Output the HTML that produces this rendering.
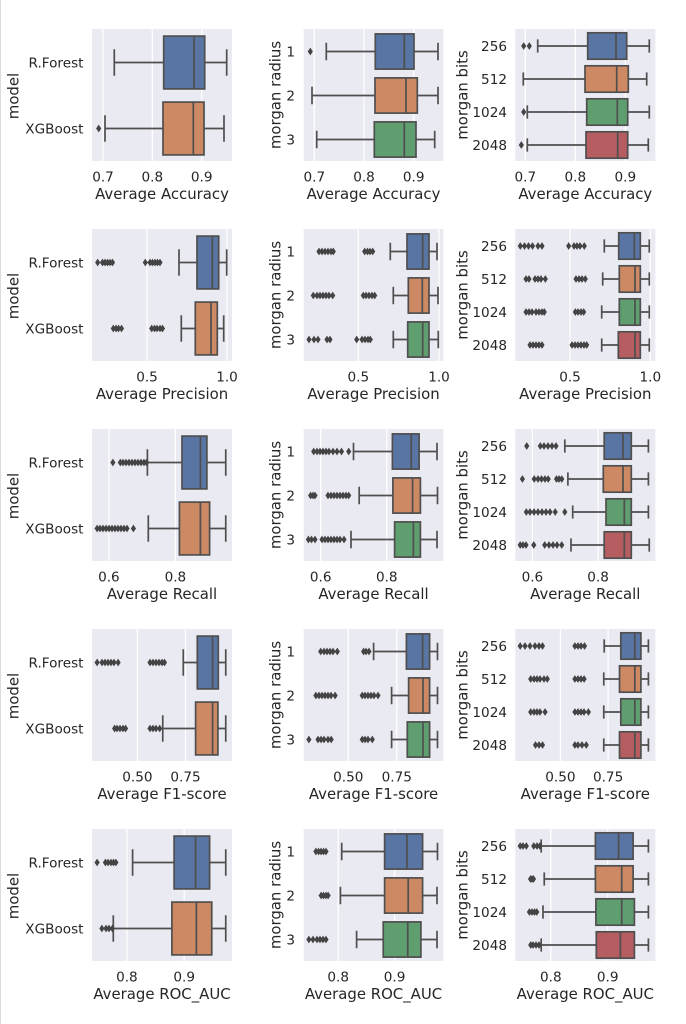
<!DOCTYPE html>
<html>
<head>
<meta charset="utf-8">
<style>
html,body{margin:0;padding:0;background:#fff;}
svg{display:block;}
text{font-family:"DejaVu Sans","Liberation Sans",sans-serif;fill:#262626;}
.tk{font-size:13.6px;}
.lb{font-size:14.9px;}
.fl{fill:#444;stroke:#444;stroke-width:1;}
</style>
</head>
<body>
<svg width="686" height="1024" viewBox="0 0 686 1024" xmlns="http://www.w3.org/2000/svg">
<rect x="0" y="0" width="686" height="1024" fill="#fff"/>
<line x1="0.5" y1="0" x2="0.5" y2="1024" stroke="#dcdcdc" stroke-width="1"/>

<!-- axes backgrounds -->
<g fill="#eaeaf2">
<rect x="92" y="29" width="140" height="132"/><rect x="303.7" y="29" width="139.6" height="132"/><rect x="515.3" y="29" width="140" height="132"/>
<rect x="92" y="229" width="140" height="132"/><rect x="303.7" y="229" width="139.6" height="132"/><rect x="515.3" y="229" width="140" height="132"/>
<rect x="92" y="429" width="140" height="132"/><rect x="303.7" y="429" width="139.6" height="132"/><rect x="515.3" y="429" width="140" height="132"/>
<rect x="92" y="629" width="140" height="132"/><rect x="303.7" y="629" width="139.6" height="132"/><rect x="515.3" y="629" width="140" height="132"/>
<rect x="92" y="829" width="140" height="132"/><rect x="303.7" y="829" width="139.6" height="132"/><rect x="515.3" y="829" width="140" height="132"/>
</g>

<!-- grid lines -->
<g stroke="#fff" stroke-width="1.25">
<path d="M103 29V161M152.3 29V161M201.7 29V161M314.3 29V161M364 29V161M413.7 29V161M525.3 29V161M575.3 29V161M625.3 29V161"/>
<path d="M147 229V361M227 229V361M358.3 229V361M439 229V361M570 229V361M650.3 229V361"/>
<path d="M108.9 429V561M175.4 429V561M320.7 429V561M386.75 429V561M532.4 429V561M598.1 429V561"/>
<path d="M137.4 629V761M185.5 629V761M348.25 629V761M396.8 629V761M560.4 629V761M608.1 629V761"/>
<path d="M126.9 829V961M184.2 829V961M338.2 829V961M394.6 829V961M550.8 829V961M607.7 829V961"/>
</g>

<!-- ===== ROW 1 ===== -->
<g stroke="#4f4f4f" stroke-width="1.7">
<rect x="163.7" y="36.1" width="41" height="52.8" fill="#5875a4"/>
<rect x="163" y="102.1" width="41" height="52.8" fill="#cc8963"/>
<rect x="375.3" y="33.9" width="38.7" height="35.2" fill="#5875a4"/>
<rect x="375" y="77.9" width="42.3" height="35.2" fill="#cc8963"/>
<rect x="374.3" y="121.9" width="41.7" height="35.2" fill="#5f9e6e"/>
<rect x="587.7" y="32.8" width="39" height="26.4" fill="#5875a4"/>
<rect x="585" y="65.8" width="43.3" height="26.4" fill="#cc8963"/>
<rect x="586.7" y="98.8" width="41" height="26.4" fill="#5f9e6e"/>
<rect x="586" y="131.8" width="41.7" height="26.4" fill="#b55d60"/>
<path fill="none" d="M114.3 62.5H163.7M204.7 62.5H226.7M114.3 49.3V75.7M226.7 49.3V75.7M194 36.1V88.9
M105 128.5H163M204 128.5H224M105 115.3V141.7M224 115.3V141.7M193.3 102.1V154.9
M326.3 51.5H375.3M414 51.5H438M326.3 42.7V60.3M438 42.7V60.3M404.3 33.9V69.1
M312 95.5H375M417.3 95.5H438M312 86.7V104.3M438 86.7V104.3M406 77.9V113.1
M316.7 139.5H374.3M416 139.5H434.7M316.7 130.7V148.3M434.7 130.7V148.3M404.3 121.9V157.1
M537.7 46H587.7M626.7 46H649.3M537.7 39.4V52.6M649.3 39.4V52.6M616 32.8V59.2
M523.3 79H585M628.3 79H646.7M523.3 72.4V85.6M646.7 72.4V85.6M616.7 65.8V92.2
M527.3 112H586.7M627.7 112H649.3M527.3 105.4V118.6M649.3 105.4V118.6M617.3 98.8V125.2
M527.3 145H586M627.7 145H648.3M527.3 138.4V151.6M648.3 138.4V151.6M617.7 131.8V158.2"/>
</g>
<path class="fl" d="M98.7 125.5l2 3-2 3-2-3zM310.3 48.5l2 3-2 3-2-3zM523.7 43l2 3-2 3-2-3zM529.3 43l2 3-2 3-2-3zM523.7 109l2 3-2 3-2-3zM521.3 142l2 3-2 3-2-3z"/>

<!-- ===== ROW 2 ===== -->
<g stroke="#4f4f4f" stroke-width="1.7">
<rect x="197" y="236.1" width="21.7" height="52.8" fill="#5875a4"/>
<rect x="195.3" y="302.1" width="22" height="52.8" fill="#cc8963"/>
<rect x="407" y="233.9" width="22" height="35.2" fill="#5875a4"/>
<rect x="408.3" y="277.9" width="20.7" height="35.2" fill="#cc8963"/>
<rect x="407.7" y="321.9" width="21.3" height="35.2" fill="#5f9e6e"/>
<rect x="618.7" y="232.8" width="21.6" height="26.4" fill="#5875a4"/>
<rect x="619.3" y="265.8" width="21" height="26.4" fill="#cc8963"/>
<rect x="619.3" y="298.8" width="21" height="26.4" fill="#5f9e6e"/>
<rect x="618.3" y="331.8" width="22" height="26.4" fill="#b55d60"/>
<path fill="none" d="M179 262.5H197M218.7 262.5H226.7M179 249.3V275.7M226.7 249.3V275.7M212.3 236.1V288.9
M181.3 328.5H195.3M217.3 328.5H223.7M181.3 315.3V341.7M223.7 315.3V341.7M211 302.1V354.9
M390.3 251.5H407M429 251.5H437M390.3 242.7V260.3M437 242.7V260.3M422.7 233.9V269.1
M393.3 295.5H408.3M429 295.5H438M393.3 286.7V304.3M438 286.7V304.3M422.3 277.9V313.1
M393.3 339.5H407.7M429 339.5H438.3M393.3 330.7V348.3M438.3 330.7V348.3M422.7 321.9V357.1
M604.3 246H618.7M640.3 246H649.3M604.3 239.4V252.6M649.3 239.4V252.6M634.3 232.8V259.2
M602.7 279H619.3M640.3 279H649.3M602.7 272.4V285.6M649.3 272.4V285.6M635 265.8V292.2
M601.7 312H619.3M640.3 312H649.3M601.7 305.4V318.6M649.3 305.4V318.6M635 298.8V325.2
M601.7 345H618.3M640.3 345H649.3M601.7 338.4V351.6M649.3 338.4V351.6M635 331.8V358.2"/>
</g>
<path class="fl" d="
M97.7 259.5l2 3-2 3-2-3zM102.5 259.5l2 3-2 3-2-3zM105 259.5l2 3-2 3-2-3zM107.5 259.5l2 3-2 3-2-3zM110 259.5l2 3-2 3-2-3zM112.5 259.5l2 3-2 3-2-3z
M145.3 259.5l2 3-2 3-2-3zM150 259.5l2 3-2 3-2-3zM152.5 259.5l2 3-2 3-2-3zM155 259.5l2 3-2 3-2-3zM157.5 259.5l2 3-2 3-2-3zM160 259.5l2 3-2 3-2-3z
M113.3 325.5l2 3-2 3-2-3zM116 325.5l2 3-2 3-2-3zM118.5 325.5l2 3-2 3-2-3zM121.5 325.5l2 3-2 3-2-3z
M151.7 325.5l2 3-2 3-2-3zM154.5 325.5l2 3-2 3-2-3zM157 325.5l2 3-2 3-2-3zM160 325.5l2 3-2 3-2-3zM162.5 325.5l2 3-2 3-2-3z
M319 248.5l2 3-2 3-2-3zM322 248.5l2 3-2 3-2-3zM325 248.5l2 3-2 3-2-3zM328 248.5l2 3-2 3-2-3zM331 248.5l2 3-2 3-2-3zM333.3 248.5l2 3-2 3-2-3z
M364.7 248.5l2 3-2 3-2-3zM367.5 248.5l2 3-2 3-2-3zM370 248.5l2 3-2 3-2-3zM372.7 248.5l2 3-2 3-2-3z
M313.3 292.5l2 3-2 3-2-3zM317 292.5l2 3-2 3-2-3zM320 292.5l2 3-2 3-2-3zM323 292.5l2 3-2 3-2-3zM326 292.5l2 3-2 3-2-3zM329 292.5l2 3-2 3-2-3zM332.7 292.5l2 3-2 3-2-3z
M363.3 292.5l2 3-2 3-2-3zM366 292.5l2 3-2 3-2-3zM369 292.5l2 3-2 3-2-3zM372 292.5l2 3-2 3-2-3zM374.7 292.5l2 3-2 3-2-3z
M309 336.5l2 3-2 3-2-3zM314 336.5l2 3-2 3-2-3zM318 336.5l2 3-2 3-2-3zM327 336.5l2 3-2 3-2-3zM330 336.5l2 3-2 3-2-3z
M356.7 336.5l2 3-2 3-2-3zM362 336.5l2 3-2 3-2-3zM365 336.5l2 3-2 3-2-3zM368 336.5l2 3-2 3-2-3zM370.3 336.5l2 3-2 3-2-3z
M520.3 243l2 3-2 3-2-3zM524.5 243l2 3-2 3-2-3zM528.5 243l2 3-2 3-2-3zM532.5 243l2 3-2 3-2-3zM538 243l2 3-2 3-2-3zM542 243l2 3-2 3-2-3z
M568.7 243l2 3-2 3-2-3zM574 243l2 3-2 3-2-3zM577 243l2 3-2 3-2-3zM580 243l2 3-2 3-2-3zM584.3 243l2 3-2 3-2-3z
M526 276l2 3-2 3-2-3zM529 276l2 3-2 3-2-3zM535 276l2 3-2 3-2-3zM538 276l2 3-2 3-2-3zM541 276l2 3-2 3-2-3zM545.3 276l2 3-2 3-2-3z
M576 276l2 3-2 3-2-3zM579 276l2 3-2 3-2-3zM582 276l2 3-2 3-2-3zM585.3 276l2 3-2 3-2-3z
M526 309l2 3-2 3-2-3zM529 309l2 3-2 3-2-3zM532 309l2 3-2 3-2-3zM536 309l2 3-2 3-2-3zM539 309l2 3-2 3-2-3zM542 309l2 3-2 3-2-3zM544.3 309l2 3-2 3-2-3z
M575.3 309l2 3-2 3-2-3zM578 309l2 3-2 3-2-3zM581 309l2 3-2 3-2-3zM583.7 309l2 3-2 3-2-3z
M530 342l2 3-2 3-2-3zM533 342l2 3-2 3-2-3zM536 342l2 3-2 3-2-3zM539 342l2 3-2 3-2-3zM542 342l2 3-2 3-2-3z
M572 342l2 3-2 3-2-3zM575 342l2 3-2 3-2-3zM578 342l2 3-2 3-2-3zM581 342l2 3-2 3-2-3zM584 342l2 3-2 3-2-3zM586.7 342l2 3-2 3-2-3z"/>

<!-- ===== ROW 3 ===== -->
<g stroke="#4f4f4f" stroke-width="1.7">
<rect x="182" y="436.1" width="24.9" height="52.8" fill="#5875a4"/>
<rect x="179.4" y="502.1" width="30.2" height="52.8" fill="#cc8963"/>
<rect x="392.4" y="433.9" width="26.7" height="35.2" fill="#5875a4"/>
<rect x="392.9" y="477.9" width="27.5" height="35.2" fill="#cc8963"/>
<rect x="394.6" y="521.9" width="25.8" height="35.2" fill="#5f9e6e"/>
<rect x="604.2" y="432.8" width="27.1" height="26.4" fill="#5875a4"/>
<rect x="603.3" y="465.8" width="28" height="26.4" fill="#cc8963"/>
<rect x="606" y="498.8" width="25.3" height="26.4" fill="#5f9e6e"/>
<rect x="604.2" y="531.8" width="27.1" height="26.4" fill="#b55d60"/>
<path fill="none" d="M147.4 462.5H182M206.9 462.5H225.75M147.4 449.3V475.7M225.75 449.3V475.7M200.4 436.1V488.9
M148.3 528.5H179.4M209.6 528.5H225.75M148.3 515.3V541.7M225.75 515.3V541.7M200.4 502.1V554.9
M353.5 451.5H392.4M419.1 451.5H437M353.5 442.7V460.3M437 442.7V460.3M411.25 433.9V469.1
M359.2 495.5H392.9M420.4 495.5H437.5M359.2 486.7V504.3M437.5 486.7V504.3M412.6 477.9V513.1
M351 539.5H394.6M420.4 539.5H437M351 530.7V548.3M437 530.7V548.3M413.4 521.9V557.1
M564.8 446H604.2M631.3 446H648.4M564.8 439.4V452.6M648.4 439.4V452.6M623 432.8V459.2
M567.9 479H603.3M631.3 479H648.4M567.9 472.4V485.6M648.4 472.4V485.6M623 465.8V492.2
M572.7 512H606M631.3 512H648.4M572.7 505.4V518.6M648.4 505.4V518.6M624.3 498.8V525.2
M571 545H604.2M631.3 545H649.25M571 538.4V551.6M649.25 538.4V551.6M624.3 531.8V558.2"/>
</g>
<path class="fl" d="
M112.9 459.5l2 3-2 3-2-3zM120.3 459.5l2 3-2 3-2-3zM123 459.5l2 3-2 3-2-3zM126 459.5l2 3-2 3-2-3zM129 459.5l2 3-2 3-2-3zM132 459.5l2 3-2 3-2-3zM135 459.5l2 3-2 3-2-3zM138 459.5l2 3-2 3-2-3zM141 459.5l2 3-2 3-2-3zM144 459.5l2 3-2 3-2-3zM146.6 459.5l2 3-2 3-2-3z
M97.1 525.5l2 3-2 3-2-3zM100 525.5l2 3-2 3-2-3zM103 525.5l2 3-2 3-2-3zM106 525.5l2 3-2 3-2-3zM109 525.5l2 3-2 3-2-3zM112 525.5l2 3-2 3-2-3zM115 525.5l2 3-2 3-2-3zM118 525.5l2 3-2 3-2-3zM121 525.5l2 3-2 3-2-3zM124 525.5l2 3-2 3-2-3zM127 525.5l2 3-2 3-2-3zM133.4 525.5l2 3-2 3-2-3z
M313.7 448.5l2 3-2 3-2-3zM317 448.5l2 3-2 3-2-3zM320 448.5l2 3-2 3-2-3zM323 448.5l2 3-2 3-2-3zM326 448.5l2 3-2 3-2-3zM329 448.5l2 3-2 3-2-3zM333 448.5l2 3-2 3-2-3zM337 448.5l2 3-2 3-2-3zM341.5 448.5l2 3-2 3-2-3zM348.7 448.5l2 3-2 3-2-3z
M310.6 492.5l2 3-2 3-2-3zM313 492.5l2 3-2 3-2-3zM315 492.5l2 3-2 3-2-3zM328 492.5l2 3-2 3-2-3zM331 492.5l2 3-2 3-2-3zM334 492.5l2 3-2 3-2-3zM337 492.5l2 3-2 3-2-3zM340 492.5l2 3-2 3-2-3zM343 492.5l2 3-2 3-2-3zM346 492.5l2 3-2 3-2-3zM348.7 492.5l2 3-2 3-2-3z
M308.4 536.5l2 3-2 3-2-3zM311.5 536.5l2 3-2 3-2-3zM315 536.5l2 3-2 3-2-3zM322 536.5l2 3-2 3-2-3zM325 536.5l2 3-2 3-2-3zM328 536.5l2 3-2 3-2-3zM331 536.5l2 3-2 3-2-3zM334 536.5l2 3-2 3-2-3zM337 536.5l2 3-2 3-2-3zM340 536.5l2 3-2 3-2-3zM344 536.5l2 3-2 3-2-3z
M526.75 443l2 3-2 3-2-3zM540.3 443l2 3-2 3-2-3zM544 443l2 3-2 3-2-3zM548 443l2 3-2 3-2-3zM552 443l2 3-2 3-2-3zM556 443l2 3-2 3-2-3z
M522.4 476l2 3-2 3-2-3zM534.2 476l2 3-2 3-2-3zM538 476l2 3-2 3-2-3zM541.5 476l2 3-2 3-2-3zM545 476l2 3-2 3-2-3zM548.2 476l2 3-2 3-2-3zM556.5 476l2 3-2 3-2-3zM559 476l2 3-2 3-2-3zM561.75 476l2 3-2 3-2-3z
M526.3 509l2 3-2 3-2-3zM530 509l2 3-2 3-2-3zM534 509l2 3-2 3-2-3zM538 509l2 3-2 3-2-3zM542 509l2 3-2 3-2-3zM546 509l2 3-2 3-2-3zM550 509l2 3-2 3-2-3zM555.2 509l2 3-2 3-2-3zM564.8 509l2 3-2 3-2-3z
M520.2 542l2 3-2 3-2-3zM523 542l2 3-2 3-2-3zM526 542l2 3-2 3-2-3zM533.75 542l2 3-2 3-2-3zM544.7 542l2 3-2 3-2-3zM549 542l2 3-2 3-2-3zM553 542l2 3-2 3-2-3zM557 542l2 3-2 3-2-3zM561.75 542l2 3-2 3-2-3z"/>

<!-- ===== ROW 4 ===== -->
<g stroke="#4f4f4f" stroke-width="1.7">
<rect x="197.3" y="636.1" width="21" height="52.8" fill="#5875a4"/>
<rect x="195.6" y="702.1" width="22.3" height="52.8" fill="#cc8963"/>
<rect x="406.4" y="633.9" width="23.2" height="35.2" fill="#5875a4"/>
<rect x="408.6" y="677.9" width="21" height="35.2" fill="#cc8963"/>
<rect x="407.3" y="721.9" width="22.3" height="35.2" fill="#5f9e6e"/>
<rect x="620.8" y="632.8" width="20.1" height="26.4" fill="#5875a4"/>
<rect x="619.5" y="665.8" width="21.4" height="26.4" fill="#cc8963"/>
<rect x="620.8" y="698.8" width="20.1" height="26.4" fill="#5f9e6e"/>
<rect x="619.5" y="731.8" width="21.4" height="26.4" fill="#b55d60"/>
<path fill="none" d="M183.3 662.5H197.3M218.3 662.5H225.75M183.3 649.3V675.7M225.75 649.3V675.7M212.6 636.1V688.9
M162.75 728.5H195.6M217.9 728.5H225.75M162.75 715.3V741.7M225.75 715.3V741.7M212.6 702.1V754.9
M373.6 651.5H406.4M429.6 651.5H437.5M373.6 642.7V660.3M437.5 642.7V660.3M422.6 633.9V669.1
M391.6 695.5H408.6M429.6 695.5H437.5M391.6 686.7V704.3M437.5 686.7V704.3M423 677.9V713.1
M391.6 739.5H407.3M429.6 739.5H437.5M391.6 730.7V748.3M437.5 730.7V748.3M423 721.9V757.1
M604.2 646H620.8M640.9 646H648.4M604.2 639.4V652.6M648.4 639.4V652.6M634.8 632.8V659.2
M603.75 679H619.5M640.9 679H648.4M603.75 672.4V685.6M648.4 672.4V685.6M634.8 665.8V692.2
M603.75 712H620.8M640.9 712H648.4M603.75 705.4V718.6M648.4 705.4V718.6M634.8 698.8V725.2
M603.75 745H619.5M640.9 745H648.4M603.75 738.4V751.6M648.4 738.4V751.6M634.8 731.8V758.2"/>
</g>
<path class="fl" d="
M97.1 659.5l2 3-2 3-2-3zM102 659.5l2 3-2 3-2-3zM105 659.5l2 3-2 3-2-3zM108 659.5l2 3-2 3-2-3zM111 659.5l2 3-2 3-2-3zM114 659.5l2 3-2 3-2-3zM118.1 659.5l2 3-2 3-2-3z
M150 659.5l2 3-2 3-2-3zM153 659.5l2 3-2 3-2-3zM156 659.5l2 3-2 3-2-3zM159 659.5l2 3-2 3-2-3zM162 659.5l2 3-2 3-2-3zM164.5 659.5l2 3-2 3-2-3z
M114.6 725.5l2 3-2 3-2-3zM117 725.5l2 3-2 3-2-3zM120 725.5l2 3-2 3-2-3zM123 725.5l2 3-2 3-2-3zM125.6 725.5l2 3-2 3-2-3z
M150 725.5l2 3-2 3-2-3zM153 725.5l2 3-2 3-2-3zM156 725.5l2 3-2 3-2-3zM159.7 725.5l2 3-2 3-2-3z
M320.7 648.5l2 3-2 3-2-3zM324 648.5l2 3-2 3-2-3zM327 648.5l2 3-2 3-2-3zM330 648.5l2 3-2 3-2-3zM333 648.5l2 3-2 3-2-3zM337.3 648.5l2 3-2 3-2-3z
M363.6 648.5l2 3-2 3-2-3zM366 648.5l2 3-2 3-2-3zM369 648.5l2 3-2 3-2-3z
M315.9 692.5l2 3-2 3-2-3zM319 692.5l2 3-2 3-2-3zM322 692.5l2 3-2 3-2-3zM325 692.5l2 3-2 3-2-3zM328 692.5l2 3-2 3-2-3zM331 692.5l2 3-2 3-2-3zM335.1 692.5l2 3-2 3-2-3z
M362.25 692.5l2 3-2 3-2-3zM365 692.5l2 3-2 3-2-3zM368 692.5l2 3-2 3-2-3zM371 692.5l2 3-2 3-2-3zM374 692.5l2 3-2 3-2-3zM378 692.5l2 3-2 3-2-3z
M308.9 736.5l2 3-2 3-2-3zM318 736.5l2 3-2 3-2-3zM321 736.5l2 3-2 3-2-3zM324 736.5l2 3-2 3-2-3zM328 736.5l2 3-2 3-2-3zM331.2 736.5l2 3-2 3-2-3z
M362.25 736.5l2 3-2 3-2-3zM365 736.5l2 3-2 3-2-3zM368 736.5l2 3-2 3-2-3zM372.3 736.5l2 3-2 3-2-3z
M520.2 643l2 3-2 3-2-3zM525 643l2 3-2 3-2-3zM530 643l2 3-2 3-2-3zM535 643l2 3-2 3-2-3zM539 643l2 3-2 3-2-3zM542.5 643l2 3-2 3-2-3z
M574.9 643l2 3-2 3-2-3zM578 643l2 3-2 3-2-3zM581 643l2 3-2 3-2-3zM584.5 643l2 3-2 3-2-3z
M530.7 676l2 3-2 3-2-3zM534 676l2 3-2 3-2-3zM537 676l2 3-2 3-2-3zM540 676l2 3-2 3-2-3zM544 676l2 3-2 3-2-3zM547.3 676l2 3-2 3-2-3z
M574.9 676l2 3-2 3-2-3zM578 676l2 3-2 3-2-3zM581 676l2 3-2 3-2-3zM584.1 676l2 3-2 3-2-3z
M530.7 709l2 3-2 3-2-3zM534 709l2 3-2 3-2-3zM537 709l2 3-2 3-2-3zM540 709l2 3-2 3-2-3zM545.1 709l2 3-2 3-2-3z
M574.9 709l2 3-2 3-2-3zM578 709l2 3-2 3-2-3zM581 709l2 3-2 3-2-3zM584 709l2 3-2 3-2-3zM588.4 709l2 3-2 3-2-3z
M535.5 742l2 3-2 3-2-3zM539 742l2 3-2 3-2-3zM542.5 742l2 3-2 3-2-3z
M574.9 742l2 3-2 3-2-3zM578 742l2 3-2 3-2-3zM582 742l2 3-2 3-2-3zM586.25 742l2 3-2 3-2-3z"/>

<!-- ===== ROW 5 ===== -->
<g stroke="#4f4f4f" stroke-width="1.7">
<rect x="174.1" y="836.1" width="35.5" height="52.8" fill="#5875a4"/>
<rect x="171.9" y="902.1" width="39.85" height="52.8" fill="#cc8963"/>
<rect x="384.6" y="833.9" width="38" height="35.2" fill="#5875a4"/>
<rect x="384.6" y="877.9" width="38" height="35.2" fill="#cc8963"/>
<rect x="383.25" y="921.9" width="37.65" height="35.2" fill="#5f9e6e"/>
<rect x="595.4" y="832.8" width="37.7" height="26.4" fill="#5875a4"/>
<rect x="595.4" y="865.8" width="37.7" height="26.4" fill="#cc8963"/>
<rect x="595.9" y="898.8" width="38.5" height="26.4" fill="#5f9e6e"/>
<rect x="596.3" y="931.8" width="38.1" height="26.4" fill="#b55d60"/>
<path fill="none" d="M132.6 862.5H174.1M209.6 862.5H225.75M132.6 849.3V875.7M225.75 849.3V875.7M195.6 836.1V888.9
M113.3 928.5H171.9M211.75 928.5H225.75M113.3 915.3V941.7M225.75 915.3V941.7M196.4 902.1V954.9
M341.7 851.5H384.6M422.6 851.5H437.5M341.7 842.7V860.3M437.5 842.7V860.3M406.9 833.9V869.1
M340.4 895.5H384.6M422.6 895.5H437M340.4 886.7V904.3M437 886.7V904.3M408.2 877.9V913.1
M356.6 939.5H383.25M420.9 939.5H437M356.6 930.7V948.3M437 930.7V948.3M407.75 921.9V957.1
M541.2 846H595.4M633.1 846H648.4M541.2 839.4V852.6M648.4 839.4V852.6M618.6 832.8V859.2
M544.25 879H595.4M633.1 879H648.4M544.25 872.4V885.6M648.4 872.4V885.6M621.7 865.8V892.2
M543 912H595.9M634.4 912H648.4M543 905.4V918.6M648.4 905.4V918.6M621.7 898.8V925.2
M541.2 945H596.3M634.4 945H648.4M541.2 938.4V951.6M648.4 938.4V951.6M620.4 931.8V958.2"/>
</g>
<path class="fl" d="
M97.1 859.5l2 3-2 3-2-3zM105.4 859.5l2 3-2 3-2-3zM108 859.5l2 3-2 3-2-3zM111 859.5l2 3-2 3-2-3zM113.5 859.5l2 3-2 3-2-3zM115.9 859.5l2 3-2 3-2-3z
M101.9 925.5l2 3-2 3-2-3zM106 925.5l2 3-2 3-2-3zM109 925.5l2 3-2 3-2-3zM112.4 925.5l2 3-2 3-2-3z
M315.9 848.5l2 3-2 3-2-3zM318.5 848.5l2 3-2 3-2-3zM321 848.5l2 3-2 3-2-3zM323.5 848.5l2 3-2 3-2-3zM326 848.5l2 3-2 3-2-3z
M321.1 892.5l2 3-2 3-2-3zM323.5 892.5l2 3-2 3-2-3zM326 892.5l2 3-2 3-2-3zM328.1 892.5l2 3-2 3-2-3z
M308.9 936.5l2 3-2 3-2-3zM313 936.5l2 3-2 3-2-3zM317 936.5l2 3-2 3-2-3zM320 936.5l2 3-2 3-2-3zM323 936.5l2 3-2 3-2-3zM326 936.5l2 3-2 3-2-3z
M520.2 843l2 3-2 3-2-3zM523 843l2 3-2 3-2-3zM526.3 843l2 3-2 3-2-3zM533.75 843l2 3-2 3-2-3zM537 843l2 3-2 3-2-3zM539.9 843l2 3-2 3-2-3z
M530.5 876l2 3-2 3-2-3zM532 876l2 3-2 3-2-3zM533.5 876l2 3-2 3-2-3z
M529.4 909l2 3-2 3-2-3zM532 909l2 3-2 3-2-3zM534.5 909l2 3-2 3-2-3zM536.8 909l2 3-2 3-2-3z
M530.7 942l2 3-2 3-2-3zM533 942l2 3-2 3-2-3zM536 942l2 3-2 3-2-3zM539 942l2 3-2 3-2-3z"/>

<!-- ===== X tick labels ===== -->
<g class="tk" text-anchor="middle">
<text x="103" y="181.5">0.7</text><text x="152.3" y="181.5">0.8</text><text x="201.7" y="181.5">0.9</text>
<text x="314.3" y="181.5">0.7</text><text x="364" y="181.5">0.8</text><text x="413.7" y="181.5">0.9</text>
<text x="525.3" y="181.5">0.7</text><text x="575.3" y="181.5">0.8</text><text x="625.3" y="181.5">0.9</text>

<text x="147" y="381.5">0.5</text><text x="227" y="381.5">1.0</text>
<text x="358.3" y="381.5">0.5</text><text x="439" y="381.5">1.0</text>
<text x="570" y="381.5">0.5</text><text x="650.3" y="381.5">1.0</text>

<text x="108.9" y="581.5">0.6</text><text x="175.4" y="581.5">0.8</text>
<text x="320.7" y="581.5">0.6</text><text x="386.75" y="581.5">0.8</text>
<text x="532.4" y="581.5">0.6</text><text x="598.1" y="581.5">0.8</text>

<text x="137.4" y="781.5">0.50</text><text x="185.5" y="781.5">0.75</text>
<text x="348.25" y="781.5">0.50</text><text x="396.8" y="781.5">0.75</text>
<text x="560.4" y="781.5">0.50</text><text x="608.1" y="781.5">0.75</text>

<text x="126.9" y="981.5">0.8</text><text x="184.2" y="981.5">0.9</text>
<text x="338.2" y="981.5">0.8</text><text x="394.6" y="981.5">0.9</text>
<text x="550.8" y="981.5">0.8</text><text x="607.7" y="981.5">0.9</text>
</g>

<!-- ===== X axis labels ===== -->
<g class="lb" text-anchor="middle">
<text x="162" y="199">Average Accuracy</text><text x="373.5" y="199">Average Accuracy</text><text x="585.3" y="199">Average Accuracy</text>
<text x="162" y="399">Average Precision</text><text x="373.5" y="399">Average Precision</text><text x="585.3" y="399">Average Precision</text>
<text x="162" y="599">Average Recall</text><text x="373.5" y="599">Average Recall</text><text x="585.3" y="599">Average Recall</text>
<text x="162" y="799">Average F1-score</text><text x="373.5" y="799">Average F1-score</text><text x="585.3" y="799">Average F1-score</text>
<text x="162" y="999">Average ROC_AUC</text><text x="373.5" y="999">Average ROC_AUC</text><text x="585.3" y="999">Average ROC_AUC</text>
</g>

<!-- ===== Y tick labels ===== -->
<g class="tk" text-anchor="end">
<text x="83.5" y="67.5">R.Forest</text><text x="83.5" y="133.5">XGBoost</text>
<text x="83.5" y="267.5">R.Forest</text><text x="83.5" y="333.5">XGBoost</text>
<text x="83.5" y="467.5">R.Forest</text><text x="83.5" y="533.5">XGBoost</text>
<text x="83.5" y="667.5">R.Forest</text><text x="83.5" y="733.5">XGBoost</text>
<text x="83.5" y="867.5">R.Forest</text><text x="83.5" y="933.5">XGBoost</text>

<text x="295" y="56.5">1</text><text x="295" y="100.5">2</text><text x="295" y="144.5">3</text>
<text x="295" y="256.5">1</text><text x="295" y="300.5">2</text><text x="295" y="344.5">3</text>
<text x="295" y="456.5">1</text><text x="295" y="500.5">2</text><text x="295" y="544.5">3</text>
<text x="295" y="656.5">1</text><text x="295" y="700.5">2</text><text x="295" y="744.5">3</text>
<text x="295" y="856.5">1</text><text x="295" y="900.5">2</text><text x="295" y="944.5">3</text>

<text x="507" y="51">256</text><text x="507" y="84">512</text><text x="507" y="117">1024</text><text x="507" y="150">2048</text>
<text x="507" y="251">256</text><text x="507" y="284">512</text><text x="507" y="317">1024</text><text x="507" y="350">2048</text>
<text x="507" y="451">256</text><text x="507" y="484">512</text><text x="507" y="517">1024</text><text x="507" y="550">2048</text>
<text x="507" y="651">256</text><text x="507" y="684">512</text><text x="507" y="717">1024</text><text x="507" y="750">2048</text>
<text x="507" y="851">256</text><text x="507" y="884">512</text><text x="507" y="917">1024</text><text x="507" y="950">2048</text>
</g>

<!-- ===== Y axis labels ===== -->
<g class="lb" text-anchor="middle">
<text transform="translate(18.5,96) rotate(-90)">model</text>
<text transform="translate(280.5,95) rotate(-90)">morgan radius</text>
<text transform="translate(467.5,95) rotate(-90)">morgan bits</text>
<text transform="translate(18.5,296) rotate(-90)">model</text>
<text transform="translate(280.5,295) rotate(-90)">morgan radius</text>
<text transform="translate(467.5,295) rotate(-90)">morgan bits</text>
<text transform="translate(18.5,496) rotate(-90)">model</text>
<text transform="translate(280.5,495) rotate(-90)">morgan radius</text>
<text transform="translate(467.5,495) rotate(-90)">morgan bits</text>
<text transform="translate(18.5,696) rotate(-90)">model</text>
<text transform="translate(280.5,695) rotate(-90)">morgan radius</text>
<text transform="translate(467.5,695) rotate(-90)">morgan bits</text>
<text transform="translate(18.5,896) rotate(-90)">model</text>
<text transform="translate(280.5,895) rotate(-90)">morgan radius</text>
<text transform="translate(467.5,895) rotate(-90)">morgan bits</text>
</g>
</svg>
</body>
</html>
